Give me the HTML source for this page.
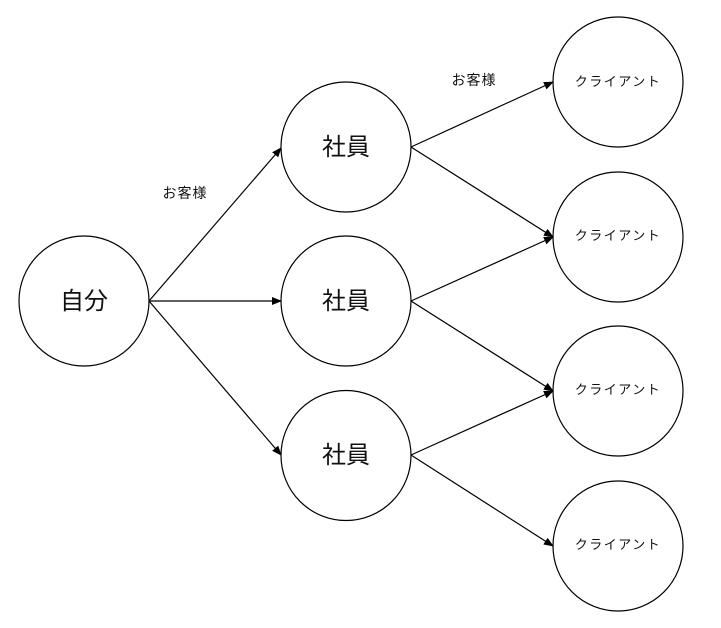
<!DOCTYPE html>
<html><head><meta charset="utf-8"><style>
html,body{margin:0;padding:0;background:#fff;}
svg{display:block;}
text{font-family:"Liberation Sans","Noto Sans CJK JP",sans-serif;fill:#111;}
</style></head><body>
<svg width="721" height="628" viewBox="0 0 721 628" xmlns="http://www.w3.org/2000/svg">
<defs><marker id="a" markerWidth="10" markerHeight="8" refX="9" refY="4" orient="auto" markerUnits="userSpaceOnUse"><path d="M0,0 L10,4 L0,8 z" fill="#000"/></marker></defs>
<g fill="#fff" stroke="#000" stroke-width="1.2">
<circle cx="84" cy="301" r="65"/>
<circle cx="346" cy="147" r="65"/>
<circle cx="346" cy="301" r="65"/>
<circle cx="346" cy="455.5" r="65"/>
<circle cx="618" cy="82" r="65"/>
<circle cx="618" cy="237" r="65"/>
<circle cx="618" cy="391" r="65"/>
<circle cx="618" cy="546" r="65"/>
</g>
<g stroke="#000" stroke-width="1.2" marker-end="url(#a)">
<line x1="149" y1="301" x2="281" y2="148"/>
<line x1="149" y1="301" x2="281" y2="301"/>
<line x1="149" y1="301" x2="281" y2="455"/>
<line x1="411" y1="147" x2="553" y2="82"/>
<line x1="411" y1="147" x2="553" y2="237"/>
<line x1="411" y1="301" x2="553" y2="237"/>
<line x1="411" y1="301" x2="553" y2="391"/>
<line x1="411" y1="455" x2="553" y2="391"/>
<line x1="411" y1="455" x2="553" y2="546"/>
</g>
<g text-anchor="middle">
<text x="84" y="309" font-size="24">自分</text>
<text x="346" y="155" font-size="24">社員</text>
<text x="346" y="309" font-size="24">社員</text>
<text x="346" y="463" font-size="24">社員</text>
<text x="618" y="86" font-size="13" letter-spacing="1.5">クライアント</text>
<text x="618" y="240" font-size="13" letter-spacing="1.5">クライアント</text>
<text x="618" y="394" font-size="13" letter-spacing="1.5">クライアント</text>
<text x="618" y="549" font-size="13" letter-spacing="1.5">クライアント</text>
<text x="185" y="198" font-size="14" letter-spacing="1">お客様</text>
<text x="474" y="85" font-size="14" letter-spacing="1">お客様</text>
</g>
</svg>
</body></html>
